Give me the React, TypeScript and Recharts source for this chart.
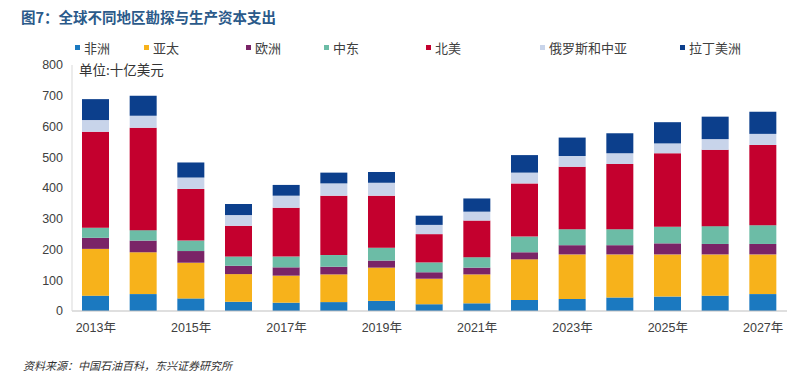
import { BarChart, Bar, XAxis, YAxis } from "recharts";

const years = [
  "2013年", "2014年", "2015年", "2016年", "2017年", "2018年", "2019年", "2020年",
  "2021年", "2022年", "2023年", "2024年", "2025年", "2026年", "2027年",
];

// 十亿美元, 逐段读图
const africa = [50, 55, 41, 30, 27, 29, 33, 22, 25, 36, 39, 44, 47, 50, 55];
const asiaPacific = [152, 136, 116, 90, 88, 90, 108, 83, 94, 132, 145, 140, 137, 134, 129];
const europe = [36, 38, 38, 27, 27, 25, 23, 21, 22, 23, 30, 30, 36, 34, 34];
const middleEast = [33, 34, 34, 30, 35, 38, 42, 32, 34, 51, 52, 52, 54, 58, 61];
const northAmerica = [312, 333, 168, 100, 159, 193, 169, 92, 119, 173, 203, 212, 239, 248, 261];
const russiaCentralAsia = [38, 39, 37, 35, 39, 40, 42, 30, 29, 35, 35, 35, 32, 35, 36];
const latinAmerica = [68, 65, 49, 36, 35, 35, 35, 30, 43, 57, 60, 65, 69, 73, 72];

const yTicks = [0, 100, 200, 300, 400, 500, 600, 700, 800];

const series = [
  { key: "africa", name: "非洲", values: africa, color: "#1b79c0" },
  { key: "ap", name: "亚太", values: asiaPacific, color: "#f7b21b" },
  { key: "eu", name: "欧洲", values: europe, color: "#7a2467" },
  { key: "me", name: "中东", values: middleEast, color: "#6cbca6" },
  { key: "na", name: "北美", values: northAmerica, color: "#c4002e" },
  { key: "ru", name: "俄罗斯和中亚", values: russiaCentralAsia, color: "#c8d4ea" },
  { key: "la", name: "拉丁美洲", values: latinAmerica, color: "#0c3f8c" },
];

const legendLeft = [75, 144, 246, 324, 426, 540, 680];

const data = years.map((year, i) => {
  const row: Record<string, string | number> = { year };
  series.forEach((s) => (row[s.key] = s.values[i]));
  return row;
});

const font = '"Liberation Sans", "Noto Sans CJK SC", sans-serif';

export default function App() {
  return (
    <div
      style={{
        position: "absolute",
        left: 0,
        top: 0,
        width: 795,
        height: 376,
        background: "#fff",
        fontFamily: font,
      }}
    >
      <div
        style={{
          position: "absolute",
          left: 21,
          top: 6,
          fontSize: 14.5,
          fontWeight: "bold",
          color: "#2b5a8a",
          fontFamily: '"Noto Sans CJK SC", sans-serif',
          whiteSpace: "nowrap",
        }}
      >
        图7：全球不同地区勘探与生产资本支出
      </div>

      <BarChart
        width={795}
        height={376}
        data={data}
        margin={{ top: 65, right: 8, left: 0, bottom: 42 }}
        barSize={27}
      >
        <XAxis
          dataKey="year"
          interval={1}
          tickLine={false}
          axisLine={{ stroke: "#bfbfbf" }}
          tick={{ fill: "#404040", fontSize: 12.5, fontFamily: font }}
          tickMargin={6}
          height={23}
        />
        <YAxis
          domain={[0, 800]}
          ticks={yTicks}
          width={72}
          tickLine={false}
          axisLine={{ stroke: "#d9d9d9" }}
          tick={{ fill: "#404040", fontSize: 12.5, fontFamily: font }}
          tickMargin={3}
        />
        {series.map((s) => (
          <Bar
            key={s.key}
            dataKey={s.key}
            name={s.name}
            stackId="a"
            fill={s.color}
            isAnimationActive={false}
          />
        ))}
      </BarChart>

      {series.map((s, i) => (
        <div
          key={s.key}
          style={{
            position: "absolute",
            left: legendLeft[i],
            top: 38,
            display: "flex",
            alignItems: "center",
            fontSize: 13,
            color: "#404040",
            fontFamily: '"Noto Sans CJK SC", sans-serif',
            whiteSpace: "nowrap",
          }}
        >
          <span
            style={{
              display: "inline-block",
              width: 5,
              height: 5,
              background: s.color,
              marginRight: 4,
            }}
          />
          {s.name}
        </div>
      ))}

      <div
        style={{
          position: "absolute",
          left: 79,
          top: 59,
          fontSize: 13.5,
          color: "#333",
          fontFamily: '"Noto Sans CJK SC", sans-serif',
          whiteSpace: "nowrap",
        }}
      >
        单位:十亿美元
      </div>

      <div
        style={{
          position: "absolute",
          left: 23,
          top: 357,
          fontSize: 11,
          fontStyle: "italic",
          color: "#333",
          fontFamily: '"Noto Sans CJK SC", sans-serif',
          whiteSpace: "nowrap",
        }}
      >
        资料来源：中国石油百科，东兴证券研究所
      </div>
    </div>
  );
}
